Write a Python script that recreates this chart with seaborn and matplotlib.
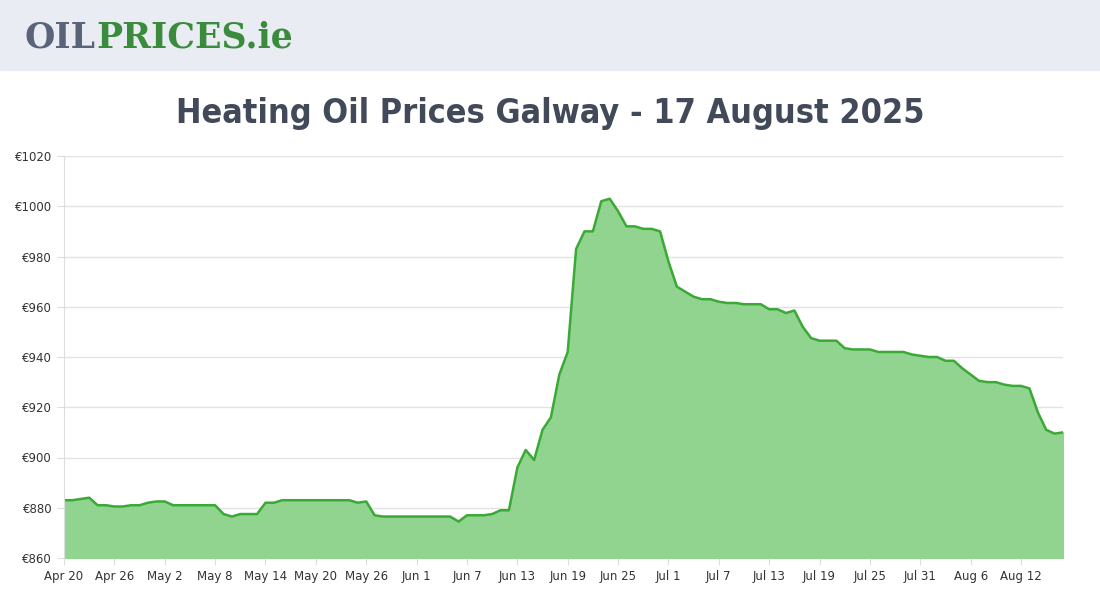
import matplotlib
matplotlib.use("Agg")
import matplotlib.pyplot as plt
import seaborn as sns
import numpy as np
import pandas as pd

prices = [883, 883, 883.5, 884, 881, 881, 880.5, 880.5, 881, 881, 882, 882.5,
          882.5, 881, 881, 881, 881, 881, 881, 877.5, 876.5, 877.5, 877.5, 877.5,
          882, 882, 883, 883, 883, 883, 883, 883, 883, 883, 883, 882,
          882.5, 877, 876.5, 876.5, 876.5, 876.5, 876.5, 876.5, 876.5, 876.5, 876.5, 874.5,
          877, 877, 877, 877.5, 879, 879, 896, 903, 899, 911, 916, 933,
          942, 983, 990, 990, 1002, 1003, 998, 992, 992, 991, 991, 990,
          978, 968, 966, 964, 963, 963, 962, 961.5, 961.5, 961, 961, 961,
          959, 959, 957.5, 958.5, 952, 947.5, 946.5, 946.5, 946.5, 943.5, 943, 943,
          943, 942, 942, 942, 942, 941, 940.5, 940, 940, 938.5, 938.5, 935.5,
          933, 930.5, 930, 930, 929, 928.5, 928.5, 927.5, 918, 911, 909.5, 910]
tick_labels = ["Apr 20", "Apr 26", "May 2", "May 8", "May 14", "May 20", "May 26", "Jun 1",
               "Jun 7", "Jun 13", "Jun 19", "Jun 25", "Jul 1", "Jul 7", "Jul 13", "Jul 19",
               "Jul 25", "Jul 31", "Aug 6", "Aug 12"]
y_ticks = [860, 880, 900, 920, 940, 960, 980, 1000, 1020]

df = pd.DataFrame({"day": np.arange(len(prices)), "price": prices})

fig = plt.figure(figsize=(11, 6), dpi=100)
fig.patch.set_facecolor("white")
fig.patches.append(plt.Rectangle((0, 1 - 70/600), 1, 70/600, transform=fig.transFigure,
                                 color="#e9ecf3", zorder=0))
fig.text(24/1100, 1 - 38/600, "OIL", fontsize=25, fontweight="bold", family="DejaVu Serif",
         color="#5a6478", va="center")
fig.text(96/1100, 1 - 38/600, "PRICES.ie", fontsize=25, fontweight="bold", family="DejaVu Serif",
         color="#3a8c3c", va="center")
fig.text(550/1100, 1 - 113/600, "Heating Oil Prices Galway - 17 August 2025", fontsize=24.5,
         family=["Liberation Sans Narrow", "DejaVu Sans"], fontweight="bold", stretch="condensed",
         color="#424a5a", ha="center", va="center")

ax = fig.add_axes([64/1100, 42/600, 999/1100, 402/600])
sns.lineplot(data=df, x="day", y="price", ax=ax, color="#3aaa35", linewidth=1.8)
ax.fill_between(df["day"], df["price"], 860, color="#90d490", zorder=1)
ax.set_xlim(0, len(prices) - 1)
ax.set_ylim(860, 1020)
ax.set_xticks(np.arange(0, len(prices), 6))
ax.set_xticklabels(tick_labels)
ax.set_yticks(y_ticks)
ax.set_yticklabels([f"€{v}" for v in y_ticks])
ax.tick_params(labelsize=8.5, colors="#333333", length=5, color="#dddddd")
ax.grid(axis="y", color="#e3e3e3", linewidth=1)
ax.grid(axis="x", visible=False)
ax.set_axisbelow(True)
for s in ["top", "right", "bottom"]:
    ax.spines[s].set_visible(False)
ax.spines["left"].set_color("#dddddd")
ax.set_xlabel("")
ax.set_ylabel("")
fig.savefig("out.png", dpi=100)
